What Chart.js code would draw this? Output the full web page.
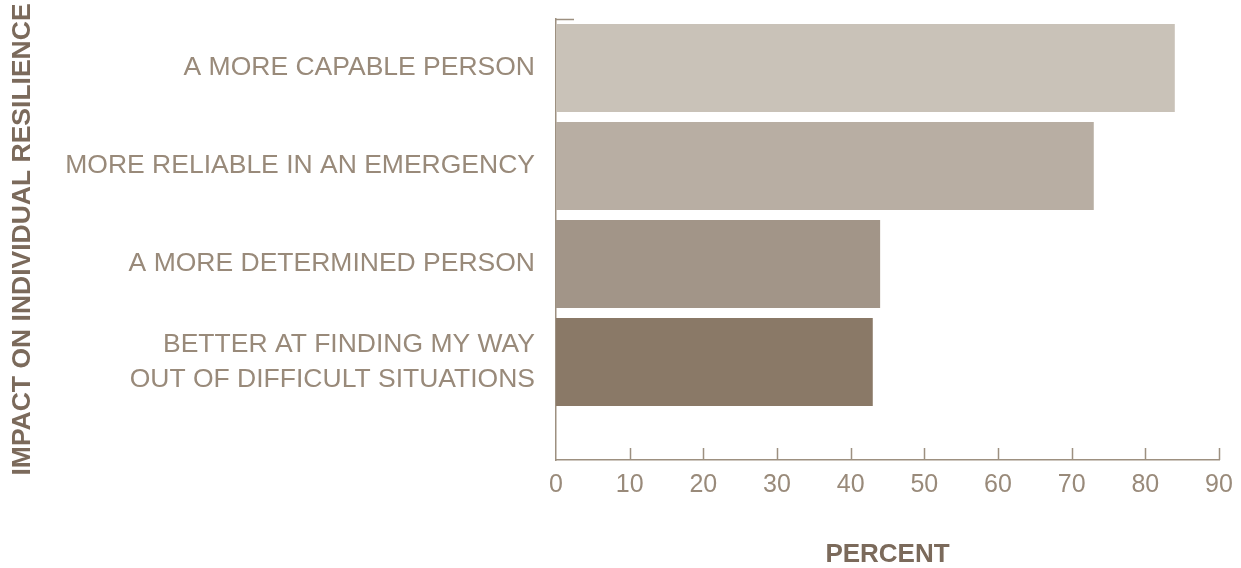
<!DOCTYPE html>
<html>
<head>
<meta charset="utf-8">
<script src="https://cdn.jsdelivr.net/npm/chart.js@4.4.1/dist/chart.umd.min.js"></script>
<style>
html,body{margin:0;padding:0;background:#fff;}
#wrap{width:1241px;height:568px;position:relative;}
</style>
</head>
<body>
<div id="wrap"><canvas id="c" width="1241" height="568"></canvas></div>
<script>
const categories = [
  'A MORE CAPABLE PERSON',
  'MORE RELIABLE IN AN EMERGENCY',
  'A MORE DETERMINED PERSON',
  ['BETTER AT FINDING MY WAY', 'OUT OF DIFFICULT SITUATIONS']
];
const values = [84, 73, 44, 43];
const barColors = ['#c9c2b8', '#b8aea3', '#a29588', '#8a7967'];
const xTicks = [0, 10, 20, 30, 40, 50, 60, 70, 80, 90];
const xTitle = 'PERCENT';
const yTitle = 'IMPACT ON INDIVIDUAL RESILIENCE';

const textColor = '#998a7a';
const titleColor = '#7b6a5b';
const axisColor = '#9d9080';
const labelFont = 'Liberation Sans';

const innerTicks = {
  id: 'innerTicks',
  afterDraw(chart) {
    const ctx = chart.ctx;
    const xs = chart.scales.x;
    const area = chart.chartArea;
    ctx.save();
    ctx.strokeStyle = axisColor;
    ctx.lineWidth = 1.5;
    ctx.beginPath();
    xs.ticks.forEach(t => {
      if (t.value === 0) return;
      const px = Math.round(xs.getPixelForValue(t.value)) + 0.5;
      ctx.moveTo(px, area.bottom);
      ctx.lineTo(px, area.bottom - 12);
    });
    const top = Math.round(area.top) + 0.5;
    ctx.moveTo(area.left, top);
    ctx.lineTo(area.left + 18, top);
    ctx.stroke();
    ctx.restore();
  }
};

function draw() {
  new Chart(document.getElementById('c'), {
    type: 'bar',
    data: {
      datasets: [{
        data: values.map((v, i) => ({ x: v, y: i })),
        backgroundColor: barColors,
        borderWidth: 0,
        categoryPercentage: 1,
        barPercentage: 0.9
      }]
    },
    options: {
      indexAxis: 'y',
      responsive: false,
      animation: false,
      events: [],
      layout: { padding: { top: 19, right: 22, left: 0, bottom: 0 } },
      plugins: { legend: { display: false }, tooltip: { enabled: false } },
      scales: {
        x: {
          type: 'linear',
          position: 'bottom',
          min: 0,
          max: 90,
          afterBuildTicks: s => { s.ticks = xTicks.map(v => ({ value: v })); },
          afterFit: s => { s.height = 108; s.paddingLeft = 0; s.paddingRight = 0; },
          grid: { display: false, drawTicks: false },
          border: { display: true, color: axisColor, width: 1.5 },
          ticks: {
            color: textColor,
            padding: 10,
            font: { family: labelFont, size: 25 }
          },
          title: {
            display: true,
            text: xTitle,
            color: titleColor,
            font: { family: 'Liberation Sans', weight: 'bold', size: 26, lineHeight: 1 },
            padding: { top: 0, bottom: 0 }
          }
        },
        y: {
          type: 'linear',
          reverse: true,
          offset: false,
          min: -0.5,
          max: 4,
          afterBuildTicks: s => { s.ticks = categories.map((c, i) => ({ value: i })); },
          afterFit: s => { s.width = 556; s.paddingTop = 0; s.paddingBottom = 0; },
          grid: { display: false, drawTicks: false },
          border: { display: true, color: axisColor, width: 1.5 },
          ticks: {
            color: textColor,
            padding: 21,
            autoSkip: false,
            font: { family: labelFont, size: 26.5, lineHeight: 1.3 },
            callback: v => categories[v]
          },
          title: {
            display: true,
            text: yTitle,
            color: titleColor,
            font: { family: 'Liberation Sans', weight: 'bold', size: 26.5, lineHeight: 1 },
            padding: { top: 9, bottom: 0 }
          }
        }
      }
    },
    plugins: [innerTicks]
  });
}

draw();
</script>
</body>
</html>
